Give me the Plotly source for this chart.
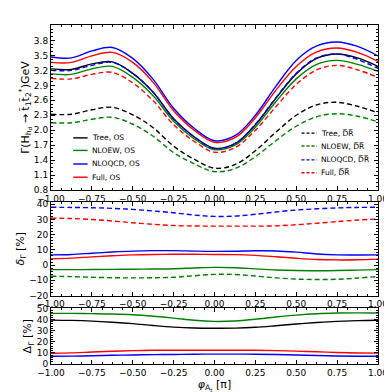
import plotly.graph_objects as go
from plotly.subplots import make_subplots

phi = [-1.0, -0.875, -0.75, -0.625, -0.5, -0.375, -0.25, -0.125, 0.0,
       0.125, 0.25, 0.375, 0.5, 0.625, 0.75, 0.875, 1.0]

# decay widths in GeV
tree_os = [3.23, 3.22, 3.33, 3.37, 3.14, 2.76, 2.23, 1.87, 1.64, 1.73, 2.11, 2.64, 3.13, 3.44, 3.53, 3.45, 3.28]
nloew_os = [3.13, 3.12, 3.23, 3.28, 3.06, 2.69, 2.18, 1.83, 1.61, 1.70, 2.06, 2.57, 3.03, 3.32, 3.40, 3.32, 3.18]
nloqcd_os = [3.47, 3.45, 3.59, 3.66, 3.44, 3.02, 2.44, 2.04, 1.79, 1.89, 2.30, 2.88, 3.40, 3.69, 3.77, 3.68, 3.49]
full_os = [3.36, 3.36, 3.49, 3.56, 3.36, 2.96, 2.39, 2.00, 1.76, 1.85, 2.25, 2.80, 3.28, 3.57, 3.65, 3.56, 3.38]
tree_dr = [2.32, 2.32, 2.41, 2.46, 2.31, 2.05, 1.68, 1.42, 1.24, 1.31, 1.59, 1.96, 2.30, 2.51, 2.56, 2.48, 2.35]
nloew_dr = [2.15, 2.15, 2.22, 2.26, 2.12, 1.88, 1.55, 1.33, 1.17, 1.23, 1.47, 1.79, 2.08, 2.27, 2.33, 2.28, 2.17]
nloqcd_dr = [3.20, 3.20, 3.30, 3.36, 3.14, 2.76, 2.23, 1.87, 1.63, 1.73, 2.12, 2.65, 3.14, 3.45, 3.53, 3.42, 3.24]
full_dr = [3.04, 3.03, 3.12, 3.16, 2.95, 2.59, 2.11, 1.78, 1.56, 1.65, 2.00, 2.47, 2.92, 3.21, 3.30, 3.21, 3.06]

# relative corrections delta in %
d_nloew_os = [-3.0, -3.0, -2.9, -2.8, -2.7, -2.6, -2.4, -1.9, -1.5, -1.7, -2.5, -3.2, -3.6, -3.7, -3.6, -3.3, -3.0]
d_nloqcd_os = [6.7, 7.0, 7.8, 8.6, 9.2, 9.5, 9.5, 9.2, 9.0, 9.1, 9.4, 9.3, 8.5, 7.3, 6.7, 6.6, 6.7]
d_full_os = [4.1, 4.6, 5.4, 6.1, 6.7, 7.0, 7.1, 7.1, 7.0, 6.9, 6.4, 5.5, 4.5, 3.7, 3.4, 3.5, 3.9]
d_nloew_dr = [-7.3, -7.6, -8.0, -8.3, -8.4, -8.3, -8.0, -7.0, -6.1, -6.2, -7.2, -8.4, -9.2, -9.5, -9.3, -8.5, -7.5]
d_nloqcd_dr = [38.0, 37.9, 37.7, 37.3, 36.6, 35.6, 34.4, 32.9, 32.0, 32.2, 33.4, 34.9, 36.2, 37.0, 37.6, 37.9, 38.0]
d_full_dr = [30.8, 30.6, 30.0, 29.0, 27.8, 26.8, 26.0, 25.7, 25.6, 25.6, 25.6, 25.8, 26.5, 27.5, 28.6, 29.6, 30.3]

# scheme differences Delta in %
D_tree = [39.5, 39.2, 38.6, 37.6, 36.3, 34.6, 33.2, 32.4, 32.2, 32.3, 33.0, 34.4, 36.0, 37.3, 38.3, 39.0, 39.4]
D_nloew = [45.5, 45.5, 45.3, 45.0, 44.3, 43.0, 41.3, 39.3, 38.3, 38.7, 40.3, 42.3, 44.0, 45.2, 45.8, 46.0, 45.8]
D_nloqcd = [7.0, 7.1, 7.4, 7.8, 8.1, 8.4, 8.6, 8.8, 8.9, 8.9, 8.8, 8.5, 8.1, 7.6, 7.2, 7.0, 7.0]
D_full = [9.6, 10.0, 10.8, 11.5, 12.0, 12.3, 12.4, 12.4, 12.4, 12.4, 12.3, 12.0, 11.6, 11.0, 10.3, 9.9, 9.8]

x_ticks = [-1.0, -0.75, -0.5, -0.25, 0.0, 0.25, 0.5, 0.75, 1.0]
y1_ticks = [0.8, 1.1, 1.4, 1.7, 2.0, 2.3, 2.6, 2.9, 3.2, 3.5, 3.8]

colors = ["black", "green", "blue", "red"]
os_names = ["Tree, OS", "NLOEW, OS", "NLOQCD, OS", "Full, OS"]
dr_names = ["Tree, D\u0305R\u0305", "NLOEW, D\u0305R\u0305", "NLOQCD, D\u0305R\u0305", "Full, D\u0305R\u0305"]

FONT = "DejaVu Sans"
DASH = "5px,3px"

fig = make_subplots(rows=3, cols=1)


def add(y, color, dashed, row):
    fig.add_trace(go.Scatter(x=phi, y=y, mode="lines", line_shape="spline",
                             line=dict(color=color, width=1.4, dash=DASH if dashed else "solid"),
                             showlegend=False), row=row, col=1)


for y, c in zip([tree_os, nloew_os, nloqcd_os, full_os], colors):
    add(y, c, False, 1)
for y, c in zip([tree_dr, nloew_dr, nloqcd_dr, full_dr], colors):
    add(y, c, True, 1)

for y, c in zip([d_nloew_os, d_nloqcd_os, d_full_os], colors[1:]):
    add(y, c, False, 2)
for y, c in zip([d_nloew_dr, d_nloqcd_dr, d_full_dr], colors[1:]):
    add(y, c, True, 2)

for y, c in zip([D_tree, D_nloew, D_nloqcd, D_full], colors):
    add(y, c, False, 3)

# hand-made legends (matplotlib style spacing)
left_y = [0.667, 0.630, 0.590, 0.551]
right_y = [0.681, 0.643, 0.602, 0.564]
shapes = []
annotations = []
for name, c, yy in zip(os_names, colors, left_y):
    shapes.append(dict(type="line", xref="paper", yref="paper", x0=0.068, x1=0.112, y0=yy, y1=yy,
                       line=dict(color=c, width=1.4)))
    annotations.append(dict(text=name, xref="paper", yref="paper", x=0.119, y=yy, xanchor="left",
                            yanchor="middle", showarrow=False, font=dict(size=7.5, family=FONT, color="black")))
for name, c, yy in zip(dr_names, colors, right_y):
    shapes.append(dict(type="line", xref="paper", yref="paper", x0=0.766, x1=0.813, y0=yy, y1=yy,
                       line=dict(color=c, width=1.4, dash="3px,2px")))
    annotations.append(dict(text=name, xref="paper", yref="paper", x=0.819, y=yy, xanchor="left",
                            yanchor="middle", showarrow=False, font=dict(size=7.5, family=FONT, color="black")))

axis_style = dict(showline=True, linecolor="black", linewidth=1, mirror="allticks", ticks="inside",
                  ticklen=4, tickcolor="black", showgrid=False, zeroline=False,
                  tickfont=dict(size=9, family=FONT, color="black"))

for i in range(1, 4):
    fig.update_xaxes(axis_style, range=[-1, 1], tickvals=x_ticks, tickformat=".2f",
                     minor=dict(ticks="inside", ticklen=2, dtick=0.0625, tick0=-1, tickcolor="black"),
                     row=i, col=1)

fig.update_yaxes(axis_style, range=[0.8, 4.11], tickvals=y1_ticks, tickformat=".1f",
                 minor=dict(ticks="inside", ticklen=2, dtick=0.075, tick0=0.8, tickcolor="black"),
                 title=dict(text="\u0393(H<sub>h<sub>d</sub></sub> \u2192 t\u0303<sub>1</sub>t\u0303<sub>2</sub><sup>*</sup>)GeV",
                            font=dict(size=11, family=FONT), standoff=2),
                 row=1, col=1)
fig.update_yaxes(axis_style, range=[-20, 41.5], dtick=10, tick0=0,
                 minor=dict(ticks="inside", ticklen=2, dtick=2, tick0=0, tickcolor="black"),
                 title=dict(text="<i>\u03b4</i><sub>\u0393</sub> [%]", font=dict(size=11, family=FONT), standoff=2),
                 row=2, col=1)
fig.update_yaxes(axis_style, range=[0, 50], dtick=10, tick0=0,
                 minor=dict(ticks="inside", ticklen=2, dtick=2, tick0=0, tickcolor="black"),
                 title=dict(text="\u0394<sub>\u0393</sub> [%]", font=dict(size=11, family=FONT), standoff=2),
                 row=3, col=1)
fig.update_xaxes(title=dict(text="<i>\u03c6</i><sub>A<sub>t</sub></sub> [\u03c0]", font=dict(size=11, family=FONT),
                            standoff=3), row=3, col=1)

fig.update_layout(
    width=392, height=392,
    margin=dict(l=43, r=12, t=12, b=33),
    paper_bgcolor="white", plot_bgcolor="white",
    font=dict(family=FONT, color="black"),
    yaxis=dict(domain=[0.513, 1.0]),
    yaxis2=dict(domain=[0.202, 0.478]),
    yaxis3=dict(domain=[0.0, 0.164]),
    shapes=shapes, annotations=annotations,
)

fig.write_html("out.html")
